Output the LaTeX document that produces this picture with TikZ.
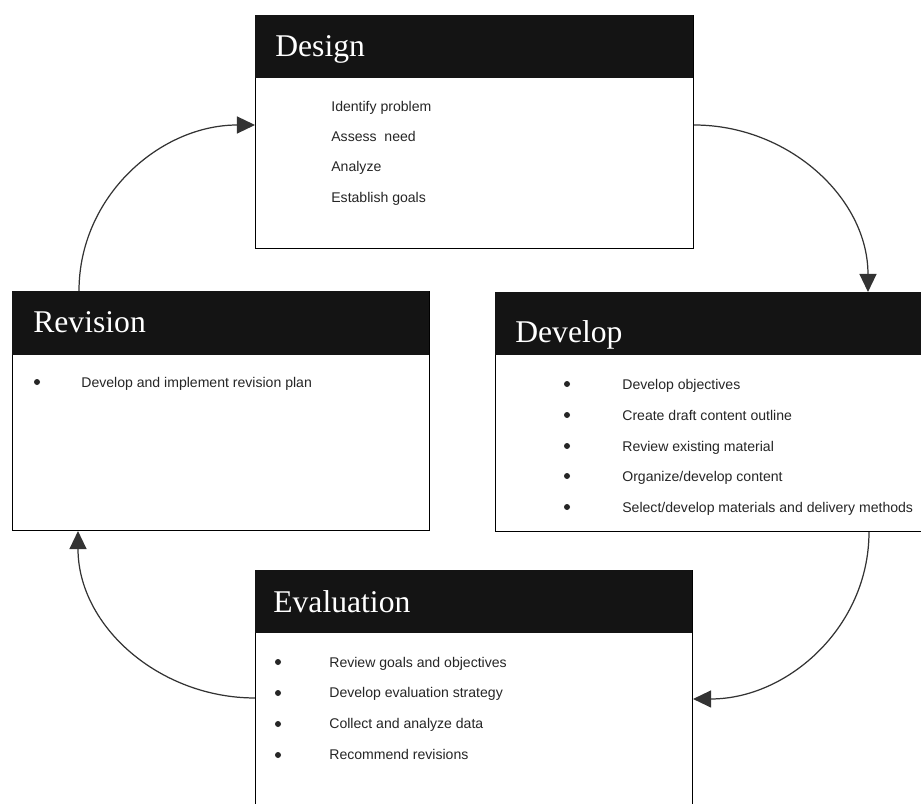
\documentclass[tikz,border=0pt]{standalone}
\usepackage{fontspec}
\setmainfont{Liberation Sans}
\newfontfamily\headfont{Liberation Serif}
\usetikzlibrary{arrows.meta,calc}

\begin{document}
\begin{tikzpicture}[scale=0.2]
\tikzstyle{every node}+=[inner sep=0pt]
\tikzstyle{box}=[draw=black, line width=0.6pt, fill=white, anchor=north west]
\tikzstyle{headbar}=[fill=black!92, anchor=north west]
\tikzstyle{headtext}=[anchor=base west, text=white, font=\headfont\fontsize{18}{20}\selectfont]
\tikzstyle{item}=[anchor=base west, text=black!85, font=\fontsize{8}{10}\selectfont]
\tikzstyle{dot}=[circle, fill=black!85, minimum size=0.12cm]
\tikzstyle{loopline}=[draw=black!80, line width=0.7pt, -{Triangle[length=0.36cm,width=0.34cm]}]
\useasboundingbox (0,0) rectangle (92.1,-80.4);
\clip (0,0) rectangle (92.1,-80.4);
% Design
\node (des) [box, minimum width=8.76cm, minimum height=4.66cm] at (25.5,-1.5) {};
\node (deshead) [headbar, minimum width=8.76cm, minimum height=1.26cm] at (25.5,-1.5) {};
\node (deslbl) [headtext] at (27.5,-5.7) {Design};
\node (des1) [item] at (33.1,-11.2) {Identify problem};
\node (des2) [item] at (33.1,-14.2) {Assess\ \ need};
\node (des3) [item] at (33.1,-17.2) {Analyze};
\node (des4) [item] at (33.1,-20.3) {Establish goals};
% Revision
\node (rev) [box, minimum width=8.34cm, minimum height=4.78cm] at (1.2,-29.1) {};
\node (revhead) [headbar, minimum width=8.34cm, minimum height=1.28cm] at (1.2,-29.1) {};
\node (revlbl) [headtext] at (3.3,-33.3) {Revision};
\node (revdot1) [dot] at (3.7,-38.2) {};
\node (rev1) [item] at (8.1,-38.7) {Develop and implement revision plan};
% Develop
\node (dev) [box, minimum width=8.8cm, minimum height=4.78cm] at (49.5,-29.2) {};
\node (devhead) [headbar, minimum width=8.8cm, minimum height=1.26cm] at (49.5,-29.2) {};
\node (devlbl) [headtext] at (51.5,-34.3) {Develop};
\node (devdot1) [dot] at (56.7,-38.4) {};
\node (devdot2) [dot] at (56.7,-41.5) {};
\node (devdot3) [dot] at (56.7,-44.6) {};
\node (devdot4) [dot] at (56.7,-47.6) {};
\node (devdot5) [dot] at (56.7,-50.7) {};
\node (dev1) [item] at (62.2,-38.9) {Develop objectives};
\node (dev2) [item] at (62.2,-42.0) {Create draft content outline};
\node (dev3) [item] at (62.2,-45.1) {Review existing material};
\node (dev4) [item] at (62.2,-48.1) {Organize/develop content};
\node (dev5) [item] at (62.2,-51.2) {Select/develop materials and delivery methods};
% Evaluation
\node (eva) [box, minimum width=8.74cm, minimum height=4.9cm] at (25.5,-57.0) {};
\node (evahead) [headbar, minimum width=8.74cm, minimum height=1.26cm] at (25.5,-57.0) {};
\node (evalbl) [headtext] at (27.3,-61.2) {Evaluation};
\node (evadot1) [dot] at (27.8,-66.2) {};
\node (evadot2) [dot] at (27.8,-69.3) {};
\node (evadot3) [dot] at (27.8,-72.4) {};
\node (evadot4) [dot] at (27.8,-75.5) {};
\node (eva1) [item] at (32.9,-66.7) {Review goals and objectives};
\node (eva2) [item] at (32.9,-69.7) {Develop evaluation strategy};
\node (eva3) [item] at (32.9,-72.8) {Collect and analyze data};
\node (eva4) [item] at (32.9,-75.9) {Recommend revisions};
% arrow ends
\coordinate (revtop) at ($(rev.north west)+(6.7,0)$);
\coordinate (desleft) at ($(des.north west)+(0,-11)$);
\coordinate (desright) at ($(des.north east)+(0,-11)$);
\coordinate (devtop) at ($(dev.north west)+(37.3,0)$);
\coordinate (devbot) at ($(dev.south west)+(37.4,0)$);
\coordinate (evaright) at ($(eva.north east)+(0,-12.9)$);
\coordinate (evaleft) at ($(eva.north west)+(0,-12.8)$);
\coordinate (revbot) at ($(rev.south west)+(6.6,0)$);
\draw [loopline] (revtop) to[out=90,in=180] (desleft);
\draw [loopline] (desright) to[out=0,in=90] (devtop);
\draw [loopline] (devbot) to[out=270,in=0] (evaright);
\draw [loopline] (evaleft) to[out=180,in=270] (revbot);
\end{tikzpicture}
\end{document}
